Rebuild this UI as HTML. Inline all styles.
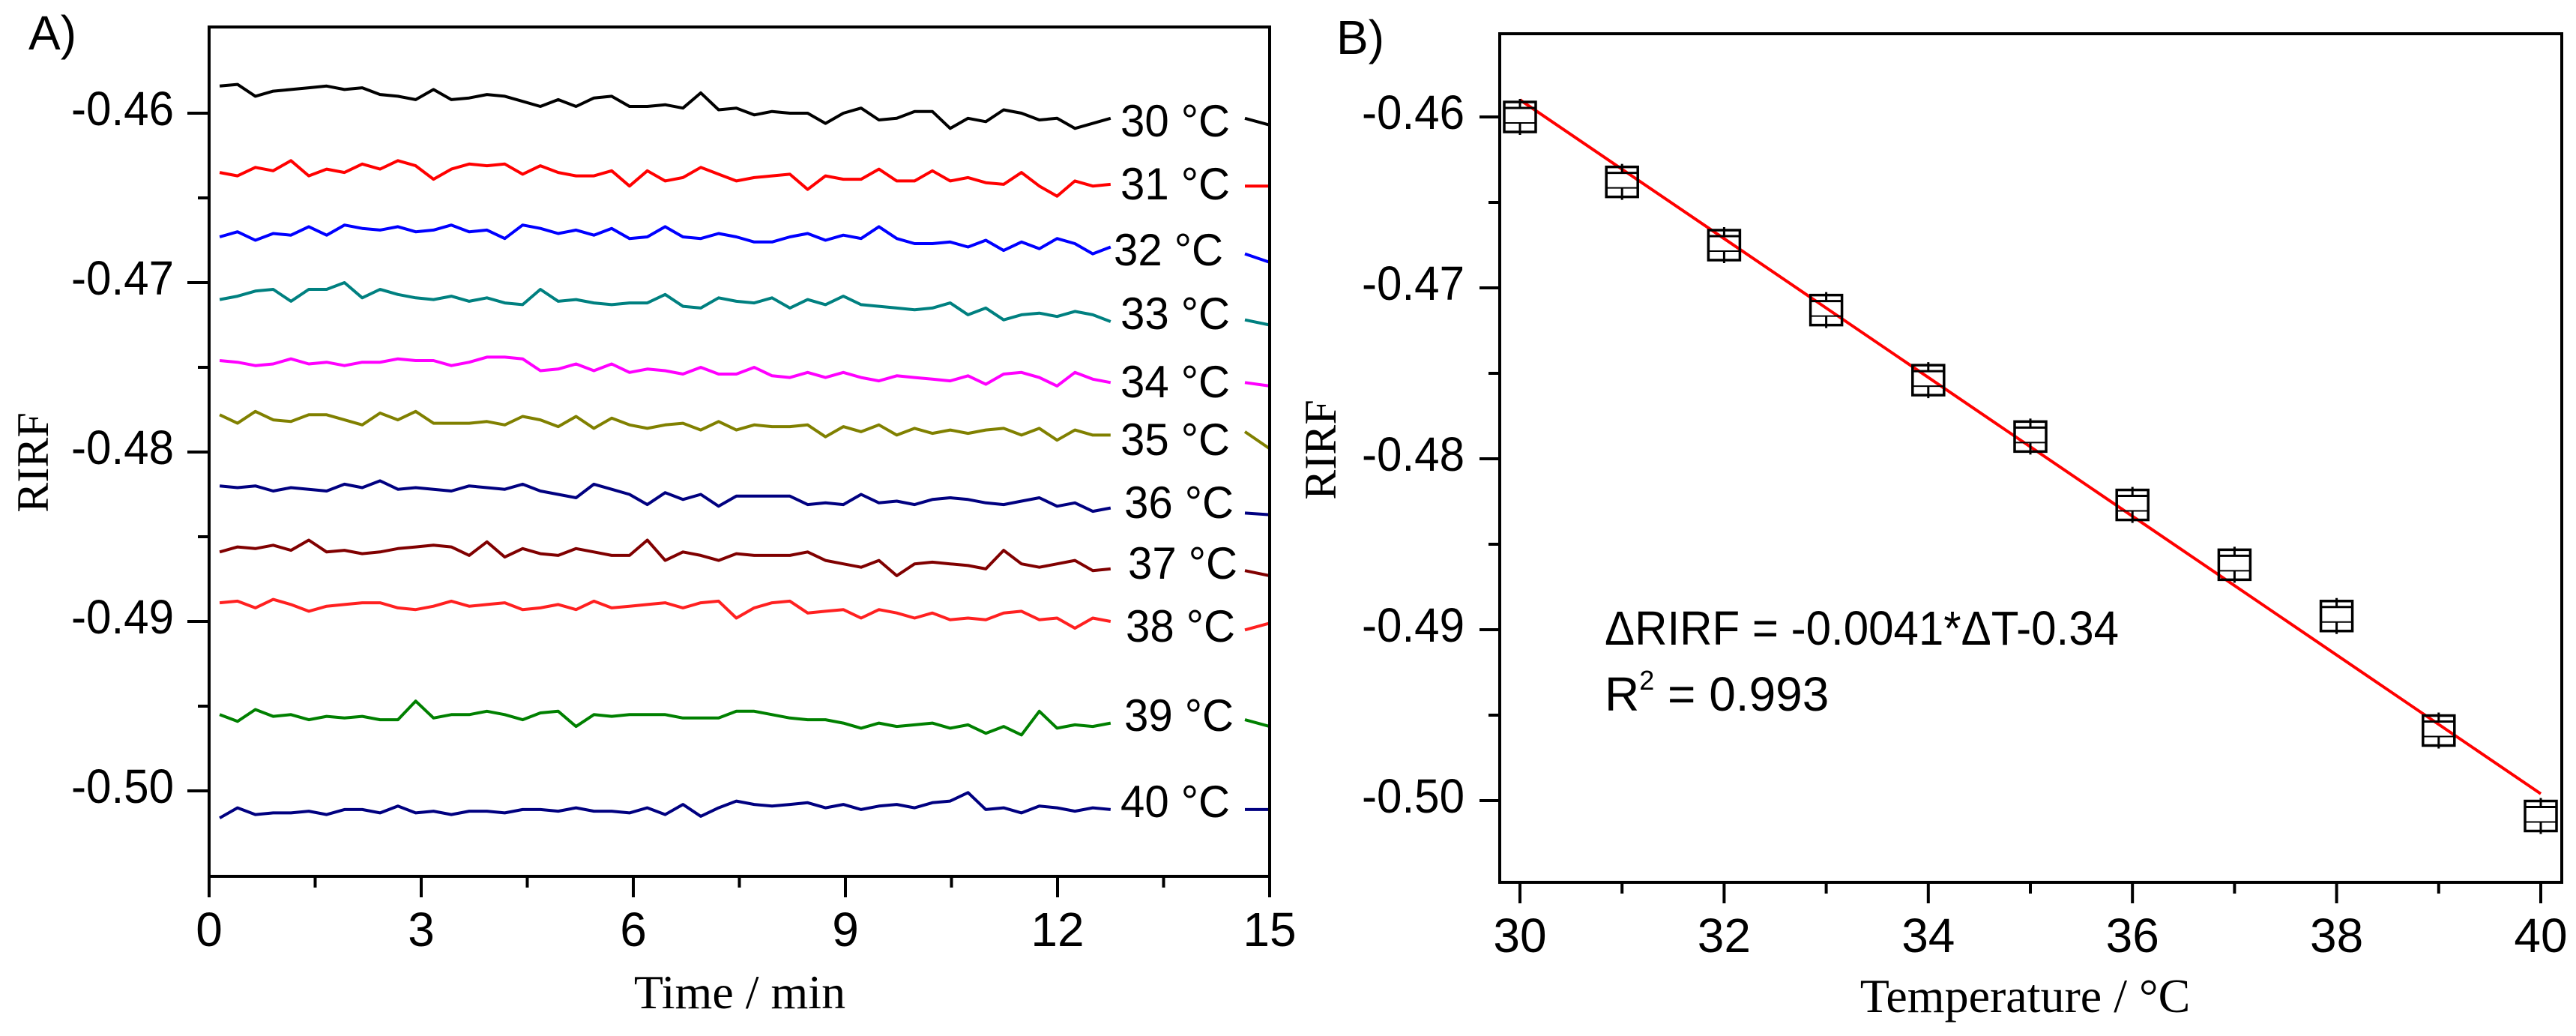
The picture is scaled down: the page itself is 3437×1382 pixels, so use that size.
<!DOCTYPE html>
<html><head><meta charset="utf-8"><title>RIRF vs temperature</title>
<style>
html,body{margin:0;padding:0;background:#fff;}
svg{display:block;}
text{font-family:"Liberation Sans",sans-serif;fill:#000;}
.serif{font-family:"Liberation Serif",serif;}
</style></head>
<body>
<svg id="fig" width="3437" height="1382" viewBox="0 0 3437 1382" xmlns="http://www.w3.org/2000/svg"></svg>
<script>
// ---------- Panel A data ----------
const seriesLabels = ["30 °C","31 °C","32 °C","33 °C","34 °C","35 °C","36 °C","37 °C","38 °C","39 °C","40 °C"];
const s30=[-0.4584,-0.4583,-0.4590,-0.4587,-0.4586,-0.4585,-0.4584,-0.4586,-0.4585,-0.4589,-0.4590,-0.4592,-0.4586,-0.4592,-0.4591,-0.4589,-0.4590,-0.4593,-0.4596,-0.4592,-0.4596,-0.4591,-0.4590,-0.4596,-0.4596,-0.4595,-0.4597,-0.4588,-0.4598,-0.4597,-0.4601,-0.4599,-0.4600,-0.4600,-0.4606,-0.4600,-0.4597,-0.4604,-0.4603,-0.4599,-0.4599,-0.4609,-0.4603,-0.4605,-0.4598,-0.4600,-0.4604,-0.4603,-0.4609,-0.4606,-0.4603];
const s31=[-0.4635,-0.4637,-0.4632,-0.4634,-0.4628,-0.4637,-0.4633,-0.4635,-0.4630,-0.4633,-0.4628,-0.4631,-0.4639,-0.4633,-0.4630,-0.4631,-0.4630,-0.4636,-0.4631,-0.4635,-0.4637,-0.4637,-0.4634,-0.4643,-0.4634,-0.4640,-0.4638,-0.4632,-0.4636,-0.4640,-0.4638,-0.4637,-0.4636,-0.4645,-0.4637,-0.4639,-0.4639,-0.4633,-0.4640,-0.4640,-0.4634,-0.4640,-0.4638,-0.4641,-0.4642,-0.4635,-0.4643,-0.4649,-0.4640,-0.4643,-0.4642];
const s32=[-0.4673,-0.4670,-0.4675,-0.4671,-0.4672,-0.4667,-0.4672,-0.4666,-0.4668,-0.4669,-0.4667,-0.4670,-0.4669,-0.4666,-0.4670,-0.4669,-0.4674,-0.4666,-0.4668,-0.4671,-0.4669,-0.4672,-0.4668,-0.4674,-0.4673,-0.4667,-0.4673,-0.4674,-0.4671,-0.4673,-0.4676,-0.4676,-0.4673,-0.4671,-0.4675,-0.4672,-0.4674,-0.4667,-0.4674,-0.4677,-0.4677,-0.4676,-0.4679,-0.4675,-0.4681,-0.4676,-0.4680,-0.4674,-0.4677,-0.4683,-0.4679];
const s33=[-0.4710,-0.4708,-0.4705,-0.4704,-0.4711,-0.4704,-0.4704,-0.4700,-0.4709,-0.4704,-0.4707,-0.4709,-0.4710,-0.4708,-0.4711,-0.4709,-0.4712,-0.4713,-0.4704,-0.4711,-0.4710,-0.4712,-0.4713,-0.4712,-0.4712,-0.4707,-0.4714,-0.4715,-0.4709,-0.4711,-0.4712,-0.4709,-0.4715,-0.4710,-0.4713,-0.4708,-0.4713,-0.4714,-0.4715,-0.4716,-0.4715,-0.4712,-0.4719,-0.4715,-0.4722,-0.4719,-0.4718,-0.4720,-0.4717,-0.4719,-0.4723];
const s34=[-0.4746,-0.4747,-0.4749,-0.4748,-0.4745,-0.4748,-0.4747,-0.4749,-0.4747,-0.4747,-0.4745,-0.4746,-0.4746,-0.4749,-0.4747,-0.4744,-0.4744,-0.4745,-0.4752,-0.4751,-0.4748,-0.4752,-0.4748,-0.4753,-0.4751,-0.4752,-0.4754,-0.4750,-0.4754,-0.4754,-0.4750,-0.4755,-0.4756,-0.4753,-0.4756,-0.4753,-0.4756,-0.4758,-0.4755,-0.4756,-0.4757,-0.4758,-0.4755,-0.4760,-0.4754,-0.4753,-0.4756,-0.4761,-0.4753,-0.4757,-0.4759];
const s35=[-0.4778,-0.4783,-0.4776,-0.4781,-0.4782,-0.4778,-0.4778,-0.4781,-0.4784,-0.4777,-0.4781,-0.4776,-0.4783,-0.4783,-0.4783,-0.4782,-0.4784,-0.4779,-0.4781,-0.4785,-0.4779,-0.4786,-0.4780,-0.4784,-0.4786,-0.4784,-0.4783,-0.4787,-0.4782,-0.4787,-0.4784,-0.4785,-0.4785,-0.4784,-0.4791,-0.4785,-0.4788,-0.4784,-0.4790,-0.4786,-0.4789,-0.4787,-0.4789,-0.4787,-0.4786,-0.4790,-0.4786,-0.4793,-0.4787,-0.4790,-0.4790];
const s36=[-0.4820,-0.4821,-0.4820,-0.4823,-0.4821,-0.4822,-0.4823,-0.4819,-0.4821,-0.4817,-0.4822,-0.4821,-0.4822,-0.4823,-0.4820,-0.4821,-0.4822,-0.4819,-0.4823,-0.4825,-0.4827,-0.4819,-0.4822,-0.4825,-0.4831,-0.4824,-0.4828,-0.4825,-0.4832,-0.4826,-0.4826,-0.4826,-0.4826,-0.4831,-0.4830,-0.4831,-0.4825,-0.4830,-0.4829,-0.4831,-0.4828,-0.4827,-0.4828,-0.4830,-0.4831,-0.4829,-0.4827,-0.4832,-0.4830,-0.4835,-0.4833];
const s37=[-0.4859,-0.4856,-0.4857,-0.4855,-0.4858,-0.4852,-0.4859,-0.4858,-0.4860,-0.4859,-0.4857,-0.4856,-0.4855,-0.4856,-0.4861,-0.4853,-0.4862,-0.4857,-0.4860,-0.4861,-0.4857,-0.4859,-0.4861,-0.4861,-0.4852,-0.4864,-0.4859,-0.4861,-0.4864,-0.4860,-0.4861,-0.4861,-0.4861,-0.4859,-0.4864,-0.4866,-0.4868,-0.4864,-0.4873,-0.4866,-0.4865,-0.4866,-0.4867,-0.4869,-0.4858,-0.4866,-0.4868,-0.4866,-0.4864,-0.4870,-0.4869];
const s38=[-0.4889,-0.4888,-0.4892,-0.4887,-0.4890,-0.4894,-0.4891,-0.4890,-0.4889,-0.4889,-0.4892,-0.4893,-0.4891,-0.4888,-0.4891,-0.4890,-0.4889,-0.4893,-0.4892,-0.4890,-0.4893,-0.4888,-0.4892,-0.4891,-0.4890,-0.4889,-0.4892,-0.4889,-0.4888,-0.4898,-0.4892,-0.4889,-0.4888,-0.4895,-0.4894,-0.4893,-0.4898,-0.4893,-0.4895,-0.4898,-0.4895,-0.4899,-0.4898,-0.4899,-0.4895,-0.4894,-0.4899,-0.4898,-0.4904,-0.4898,-0.4900];
const s39=[-0.4955,-0.4959,-0.4952,-0.4956,-0.4955,-0.4958,-0.4956,-0.4957,-0.4956,-0.4958,-0.4958,-0.4947,-0.4957,-0.4955,-0.4955,-0.4953,-0.4955,-0.4958,-0.4954,-0.4953,-0.4962,-0.4955,-0.4956,-0.4955,-0.4955,-0.4955,-0.4957,-0.4957,-0.4957,-0.4953,-0.4953,-0.4955,-0.4957,-0.4958,-0.4958,-0.4960,-0.4963,-0.4960,-0.4962,-0.4961,-0.4960,-0.4963,-0.4961,-0.4966,-0.4962,-0.4967,-0.4953,-0.4963,-0.4961,-0.4962,-0.4960];
const s40=[-0.5016,-0.5010,-0.5014,-0.5013,-0.5013,-0.5012,-0.5014,-0.5011,-0.5011,-0.5013,-0.5009,-0.5013,-0.5012,-0.5014,-0.5012,-0.5012,-0.5013,-0.5011,-0.5011,-0.5012,-0.5010,-0.5012,-0.5012,-0.5013,-0.5010,-0.5014,-0.5008,-0.5015,-0.5010,-0.5006,-0.5008,-0.5009,-0.5008,-0.5007,-0.5010,-0.5008,-0.5011,-0.5009,-0.5008,-0.5010,-0.5007,-0.5006,-0.5001,-0.5011,-0.5010,-0.5013,-0.5009,-0.5010,-0.5012,-0.5010,-0.5011];
const seriesA=[s30,s31,s32,s33,s34,s35,s36,s37,s38,s39,s40];
const tailTimes=[14.65,15.0];
const tails=[[-0.4603,-0.4607],[-0.4643,-0.4643],[-0.4683,-0.4688],[-0.4722,-0.4725],[-0.4759,-0.4761],[-0.4788,-0.4798],[-0.4836,-0.4837],[-0.4870,-0.4873],[-0.4905,-0.4901],[-0.4958,-0.4962],[-0.5011,-0.5011]];
const timeStart=0.15, timeEnd=12.75;
const xTicksA=[0,3,6,9,12,15];
const yTicksA=[-0.46,-0.47,-0.48,-0.49,-0.50];
const yTickLabels=["-0.46","-0.47","-0.48","-0.49","-0.50"];
// ---------- Panel B data ----------
const temps=[30,31,32,33,34,35,36,37,38,39,40];
const rirfMeans=[-0.4600,-0.4638,-0.4675,-0.4713,-0.4754,-0.4787,-0.4827,-0.4862,-0.4892,-0.4959,-0.5009];
const fitX=[30,40];
const fitY=[-0.4590,-0.4996];
const xTicksB=[30,32,34,36,38,40];

const colors=["#000000","#ff0000","#0000ff","#008080","#ff00ff","#808000","#000080","#800000","#ff2020","#008000","#000080"];
const labelPos=[[1495,182],[1495,266],[1486,354],[1495,439],[1495,530],[1495,607],[1500,691],[1505,772],[1502,856],[1500,975],[1495,1090]];

const NS="http://www.w3.org/2000/svg";
const svg=document.getElementById('fig');
function mk(tag,attrs,parent){const e=document.createElementNS(NS,tag);for(const k in attrs)e.setAttribute(k,attrs[k]);(parent||svg).appendChild(e);return e;}
function txt(s,attrs,parent){const e=mk('text',attrs,parent);e.textContent=s;return e;}

// Panel A scales
const A={l:279,r:1694,t:36,b:1169};
const xA=t=>A.l+(t-0)/(15-0)*(A.r-A.l);
const yA=v=>151+(-0.46-v)*22600;
// Panel B scales
const B={l:2001,r:3418,t:45,b:1177};
const xB=T=>2028+(T-30)*136.2;
const yB=v=>156+(-0.46-v)*22800;

// ----- Panel A -----
const gA=mk('g',{});


const pl=txt("A)",{x:38,y:66,'font-size':64},gA);


seriesA.forEach((vals,si)=>{
  const n=vals.length;
  let d='';
  vals.forEach((v,i)=>{const t=timeStart+i*(timeEnd-timeStart)/(n-1);d+=(i?'L':'M')+xA(t).toFixed(1)+' '+yA(v).toFixed(1);});
  const p=mk('path',{d:d,fill:'none',stroke:colors[si],'stroke-width':4,'stroke-linejoin':'round'},gA);
  
  
  let d2='';
  tails[si].forEach((v,i)=>{d2+=(i?'L':'M')+xA(tailTimes[i]).toFixed(1)+' '+yA(v).toFixed(1);});
  const p2=mk('path',{d:d2,fill:'none',stroke:colors[si],'stroke-width':4},gA);
  
  
  const lb=txt(seriesLabels[si],{x:labelPos[si][0],y:labelPos[si][1],'font-size':60,textLength:146,lengthAdjust:'spacingAndGlyphs'},gA);
  
  
});
// frame A
const fA=mk('rect',{x:A.l,y:A.t,width:A.r-A.l,height:A.b-A.t,fill:'none',stroke:'#000','stroke-width':4},gA);

// y ticks A
yTicksA.forEach((v,i)=>{
  const y=yA(v);
  const tk=mk('line',{x1:A.l-29,x2:A.l,y1:y,y2:y,stroke:'#000','stroke-width':4},gA);
  
  const lb=txt(yTickLabels[i],{x:232,y:y+16,'font-size':64,'text-anchor':'end',textLength:137,lengthAdjust:'spacingAndGlyphs'},gA);
  
});
for(let k=0;k<4;k++){const v=yTicksA[k]-0.005;const y=yA(v);
  const m=mk('line',{x1:A.l-15,x2:A.l,y1:y,y2:y,stroke:'#000','stroke-width':4},gA);
  }
xTicksA.forEach(t=>{
  const x=xA(t);
  const tk=mk('line',{x1:x,x2:x,y1:A.b,y2:A.b+28,stroke:'#000','stroke-width':4},gA);
  
  const lb=txt(String(t),{x:x,y:1262,'font-size':64,'text-anchor':'middle'},gA);
  
});
for(let k=0;k<5;k++){const x=xA(xTicksA[k]+1.5);
  const m=mk('line',{x1:x,x2:x,y1:A.b,y2:A.b+15,stroke:'#000','stroke-width':4},gA);
  }
const xtA=txt("Time /  min",{x:987,y:1345,'font-size':64,'text-anchor':'middle','class':'serif'},gA);

const ytA=txt("RIRF",{x:0,y:0,'font-size':60,'text-anchor':'middle','class':'serif',transform:'translate(64,617) rotate(-90)'},gA);


// ----- Panel B -----
const gB=mk('g',{});


const plb=txt("B)",{x:1783,y:72,'font-size':64},gB);

const fit=mk('line',{x1:xB(fitX[0]),y1:yB(fitY[0]),x2:xB(fitX[1]),y2:yB(fitY[1]),stroke:'#ff0000','stroke-width':4},gB);

temps.forEach((T,i)=>{
  const cx=xB(T), cy=yB(rirfMeans[i]);
  const g=mk('g',{},gB);
  
  
  mk('rect',{x:cx-21,y:cy-20,width:42,height:40,fill:'none',stroke:'#000','stroke-width':3.5},g);
  mk('line',{x1:cx-21,x2:cx+21,y1:cy-12,y2:cy-12,stroke:'#000','stroke-width':3},g);
  mk('line',{x1:cx-21,x2:cx+21,y1:cy+8,y2:cy+8,stroke:'#000','stroke-width':2},g);
  mk('line',{x1:cx,x2:cx,y1:cy-24,y2:cy-12,stroke:'#000','stroke-width':3},g);
  mk('line',{x1:cx,x2:cx,y1:cy+8,y2:cy+24,stroke:'#000','stroke-width':3},g);
});
const fB=mk('rect',{x:B.l,y:B.t,width:B.r-B.l,height:B.b-B.t,fill:'none',stroke:'#000','stroke-width':4},gB);

yTicksA.forEach((v,i)=>{
  const y=yB(v);
  const tk=mk('line',{x1:B.l-27,x2:B.l,y1:y,y2:y,stroke:'#000','stroke-width':4},gB);
  
  const lb=txt(yTickLabels[i],{x:1954,y:y+16,'font-size':64,'text-anchor':'end',textLength:137,lengthAdjust:'spacingAndGlyphs'},gB);
  
});
for(let k=0;k<4;k++){const y=yB(yTicksA[k]-0.005);
  const m=mk('line',{x1:B.l-15,x2:B.l,y1:y,y2:y,stroke:'#000','stroke-width':4},gB);
  }
xTicksB.forEach(T=>{
  const x=xB(T);
  const tk=mk('line',{x1:x,x2:x,y1:B.b,y2:B.b+28,stroke:'#000','stroke-width':4},gB);
  
  const lb=txt(String(T),{x:x,y:1270,'font-size':64,'text-anchor':'middle'},gB);
  
});
for(let k=0;k<5;k++){const x=xB(xTicksB[k]+1);
  const m=mk('line',{x1:x,x2:x,y1:B.b,y2:B.b+15,stroke:'#000','stroke-width':4},gB);
  }
const xtB=txt("Temperature / °C",{x:2702,y:1350,'font-size':64,'text-anchor':'middle','class':'serif'},gB);

const ytB=txt("RIRF",{x:0,y:0,'font-size':60,'text-anchor':'middle','class':'serif',transform:'translate(1782,600) rotate(-90)'},gB);

const eq=txt("ΔRIRF = -0.0041*ΔT-0.34",{x:2141,y:860,'font-size':64,textLength:686,lengthAdjust:'spacingAndGlyphs'},gB);

const r2=mk('text',{x:2141,y:948,'font-size':64},gB);

r2.innerHTML='R<tspan dy="-28" font-size="36">2</tspan><tspan dy="28"> = 0.993</tspan>';
</script>
</body></html>
